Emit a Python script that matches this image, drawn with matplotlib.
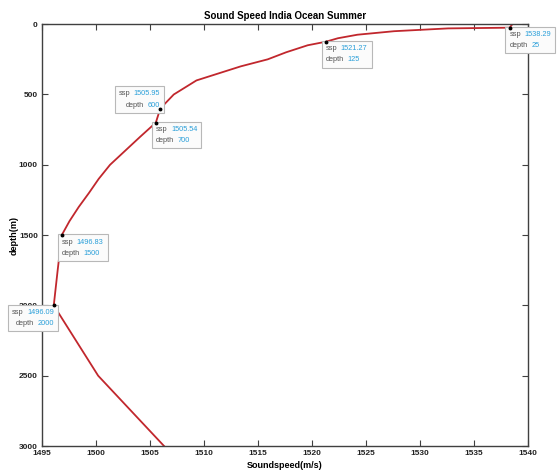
import numpy as np
import matplotlib
matplotlib.use("Agg")
from matplotlib import pyplot as plt
from matplotlib.offsetbox import TextArea, HPacker, VPacker, AnnotationBbox

plt.rcParams['font.family'] = ['Liberation Sans', 'DejaVu Sans']

# sound speed profile
depth = [0, 10, 20, 25, 30, 50, 75, 100, 125, 150, 200, 250, 300, 400, 500,
         600, 700, 800, 900, 1000, 1100, 1200, 1300, 1400, 1500, 1750, 2000,
         2500, 3000]
ssp = [1538.55, 1538.45, 1538.35, 1538.29, 1532.6, 1527.6, 1524.2, 1522.4, 1521.27,
       1519.6, 1517.6, 1515.9, 1513.4, 1509.3, 1507.2,
       1505.95, 1505.54, 1504.1, 1502.7, 1501.3, 1500.25, 1499.35, 1498.4, 1497.55,
       1496.83, 1496.45, 1496.09, 1500.2, 1506.3]

# data tips: (ssp, depth, box alignment)
tip_ssp = [1538.29, 1521.27, 1505.95, 1505.54, 1496.83, 1496.09]
tip_depth = [25, 125, 600, 700, 1500, 2000]
tip_align = [(0, 1), (0, 1), (1, 0), (0, 1), (0, 1), (1, 1)]

line_col = '#c1272d'
axis_col = '#404040'
lab_col = '#555555'
val_col = '#2a9fd9'

fig = plt.figure(figsize=(5.57, 4.74), dpi=100)
ax = fig.add_axes([0.0754, 0.059, 0.8726, 0.890])

ax.plot(ssp, depth, color=line_col, lw=1.3, zorder=2)
ax.plot(tip_ssp, tip_depth, 'o', color='k', ms=1.8, zorder=6, clip_on=False)

for s, d, al in zip(tip_ssp, tip_depth, tip_align):
    fp = dict(size=5.3)
    row1 = HPacker(children=[TextArea('ssp', textprops=dict(color=lab_col, **fp)),
                             TextArea('%.2f' % s, textprops=dict(color=val_col, **fp))],
                   pad=0, sep=2.5)
    row2 = HPacker(children=[TextArea('depth', textprops=dict(color=lab_col, **fp)),
                             TextArea('%d' % d, textprops=dict(color=val_col, **fp))],
                   pad=0, sep=2.5)
    box = VPacker(children=[row1, row2], pad=0, sep=3,
                  align='right' if al[0] == 1 else 'left')
    dy = -2.5 if al[1] == 1 else 0
    ab = AnnotationBbox(box, (s, d), xybox=(0, dy), boxcoords='offset points',
                        box_alignment=al, pad=0.5, frameon=True,
                        bboxprops=dict(boxstyle='square', fc='#fbfbfb',
                                       ec='#b8b8b8', lw=0.8),
                        zorder=4, annotation_clip=False)
    ax.add_artist(ab)

ax.set_xlim(1495, 1540)
ax.set_ylim(3000, 0)
ax.set_xticks(np.arange(1495, 1541, 5))
ax.set_yticks(np.arange(0, 3001, 500))

ax.tick_params(direction='in', length=4, width=0.8, colors=axis_col,
               labelsize=6, top=True, right=True, pad=3)
for lab in ax.get_xticklabels() + ax.get_yticklabels():
    lab.set_fontweight('bold')
    lab.set_color('#222222')
for sp in ax.spines.values():
    sp.set_color(axis_col)
    sp.set_linewidth(1.0)

ax.set_title('Sound Speed India Ocean Summer', fontsize=7, fontweight='bold', pad=4)
ax.set_xlabel('Soundspeed(m/s)', fontsize=6.5, fontweight='bold', labelpad=3)
ax.set_ylabel('depth(m)', fontsize=6.5, fontweight='bold', labelpad=0)

fig.savefig('out.png', dpi=100)
